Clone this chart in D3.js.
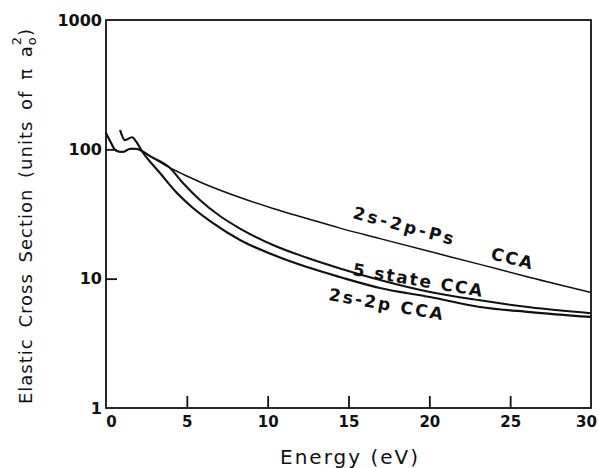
<!DOCTYPE html>
<html>
<head>
<meta charset="utf-8">
<script src="https://cdn.jsdelivr.net/npm/d3@7"></script>
<style>
  body { margin: 0; background: #fff; }
  text { font-family: "DejaVu Sans", sans-serif; fill: #111; }
</style>
</head>
<body>
<svg id="chart" width="598" height="468"></svg>
<script>
// Values (energy in eV, cross section in units of pi a0^2).
const psEnergy = [0, 0.3, 0.56, 0.85, 1.1, 1.5, 1.8, 2.1, 2.72, 3.96, 5.2, 6.25, 8.29, 10.33, 12.43, 14.47, 16.95, 20.04, 23.13, 26.23, 30];
const psValue  = [134, 113, 99, 96, 96, 101, 101, 98.9, 88.7, 71.8, 60.6, 53.0, 42.4, 34.9, 29.2, 24.6, 20.4, 16.2, 12.9, 10.2, 7.82];

const fiveEnergy = [0, 0.3, 0.56, 0.85, 1.1, 1.5, 1.8, 2.1, 2.72, 3.96, 4.76, 5.81, 7.05, 8.29, 10.33, 12.43, 14.47, 16.95, 20.04, 23.13, 26.23, 30];
const fiveValue  = [134, 113, 99, 96, 96, 101, 101, 98.9, 88.7, 71.8, 54.9, 40.6, 30.5, 24.4, 18.2, 14.5, 12.0, 9.77, 7.89, 6.8, 6.0, 5.4];

const twoEnergy = [0.87, 1.17, 1.61, 1.92, 2.2, 3.34, 4.39, 5.38, 6.62, 8.29, 10.33, 12.43, 14.47, 16.95, 20.04, 23.13, 26.23, 30];
const twoValue  = [141, 118, 124, 112, 98, 65.6, 45.9, 35.2, 26.9, 19.9, 15.3, 12.3, 10.3, 8.47, 7.21, 6.04, 5.52, 5.06];

const xTicks = [0, 5, 10, 15, 20, 25, 30];
const yTicks = [1, 10, 100, 1000];

const svg = d3.select('#chart');
const x = d3.scaleLinear().domain([0, 30]).range([106, 591]);
const y = d3.scaleLog().domain([1, 1000]).range([408, 20]);

// Frame.
svg.append('rect')
  .attr('x', x(0)).attr('y', y(1000))
  .attr('width', x(30) - x(0)).attr('height', y(1) - y(1000))
  .attr('fill', 'none').attr('stroke', '#111').attr('stroke-width', 1.8);

// Axes, ticks pointing inward.
const xAxis = svg.append('g')
  .attr('transform', `translate(0, ${y(1)})`)
  .call(d3.axisBottom(x).tickValues(xTicks).tickSizeInner(-12).tickSizeOuter(0).tickPadding(8));
const yAxis = svg.append('g')
  .attr('transform', `translate(${x(0)}, 0)`)
  .call(d3.axisLeft(y).tickValues(yTicks).tickFormat(d3.format('d')).tickSizeInner(-11).tickSizeOuter(0).tickPadding(4));

[xAxis, yAxis].forEach((g) => {
  g.select('.domain').remove();
  g.selectAll('line').attr('stroke', '#111').attr('stroke-width', 1.8);
  g.selectAll('text')
    .style('font-family', '"DejaVu Sans", sans-serif')
    .style('font-weight', 'bold')
    .attr('fill', '#111');
});
yAxis.selectAll('text').style('font-size', '16px');
xAxis.selectAll('text').style('font-size', '15px');
// End labels sit a little inside the frame corners.
xAxis.selectAll('.tick').filter((d) => d === 0).select('text').attr('dx', 5);
xAxis.selectAll('.tick').filter((d) => d === 30).select('text').attr('dx', -5);
// No tick marks at the frame corners.
xAxis.selectAll('.tick').filter((d) => d === 0 || d === 30).select('line').remove();
yAxis.selectAll('.tick').filter((d) => d === 1 || d === 1000).select('line').remove();

// Curves.
const line = d3.line()
  .x((d) => x(d[0]))
  .y((d) => y(d[1]))
  .curve(d3.curveMonotoneX);

const series = [
  {e: psEnergy, v: psValue, w: 1.5},
  {e: fiveEnergy, v: fiveValue, w: 2},
  {e: twoEnergy, v: twoValue, w: 2.2},
];
series.forEach((s) => {
  svg.append('path')
    .datum(s.e.map((e, i) => [e, s.v[i]]))
    .attr('d', line)
    .attr('fill', 'none')
    .attr('stroke', '#111')
    .attr('stroke-width', s.w);
});

// Curve labels.
const labels = [
  {text: '2s-2p-Ps', px: 352, py: 218, a: 15, ls: 3},
  {text: 'CCA', px: 490, py: 259, a: 14, ls: 2},
  {text: '5 state CCA', px: 352, py: 275, a: 9.5, ls: 2},
  {text: '2s-2p CCA', px: 328, py: 300, a: 10, ls: 2.3},
];
labels.forEach((l) => {
  svg.append('text')
    .attr('transform', `translate(${l.px}, ${l.py}) rotate(${l.a})`)
    .style('font-size', '17px')
    .style('font-weight', 'bold')
    .style('letter-spacing', `${l.ls}px`)
    .text(l.text);
});

// Axis titles.
svg.append('text')
  .attr('x', 350).attr('y', 464)
  .attr('text-anchor', 'middle')
  .style('font-size', '20px')
  .style('letter-spacing', '2px')
  .text('Energy (eV)');

const yTitle = svg.append('text')
  .attr('transform', 'translate(32, 216) rotate(-90)')
  .attr('text-anchor', 'middle')
  .style('font-size', '18px')
  .style('letter-spacing', '1px')
  .style('word-spacing', '4px');
yTitle.append('tspan').text('Elastic Cross Section (units of \u03C0 a');
yTitle.append('tspan').attr('dy', 4).style('font-size', '13px').text('o');
yTitle.append('tspan').attr('dx', -9).attr('dy', -15).style('font-size', '13px').text('2');
yTitle.append('tspan').attr('dy', 11).text(')');
</script>
</body>
</html>
